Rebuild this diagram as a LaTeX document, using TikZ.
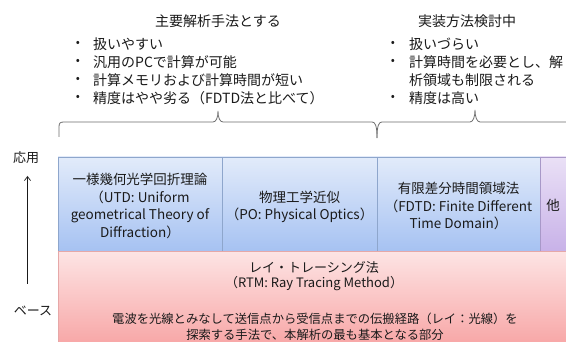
\documentclass[tikz,border=0pt]{standalone}
\usepackage{fontspec}
\setmainfont{Noto Sans CJK JP}
\usetikzlibrary{arrows.meta}
\definecolor{bluetop}{HTML}{E2EBFA}
\definecolor{bluebot}{HTML}{A6C2F2}
\definecolor{blueline}{HTML}{8EA6CC}
\definecolor{pinktop}{HTML}{FDE4E4}
\definecolor{pinkbot}{HTML}{F7A2A2}
\definecolor{pinkline}{HTML}{E6A8A8}
\definecolor{purptop}{HTML}{EAE0F6}
\definecolor{purpbot}{HTML}{C8B2E8}
\definecolor{purpline}{HTML}{A898C8}
\definecolor{txt}{HTML}{1A1A1A}
\definecolor{bracec}{HTML}{6E6E6E}
\tikzset{
  bluebox/.style={draw=blueline, line width=0.7pt, top color=bluetop, bottom color=bluebot, minimum height=94pt, inner sep=0pt},
  purpbox/.style={draw=purpline, line width=0.7pt, top color=purptop, bottom color=purpbot, minimum height=94pt, inner sep=0pt},
  pinkbox/.style={draw=pinkline, line width=0.7pt, top color=pinktop, bottom color=pinkbot, inner sep=0pt},
  boxtext/.style={text=txt, align=center, font=\fontsize{13.5}{17.5}\selectfont, inner sep=0pt},
  headtext/.style={text=txt, font=\fontsize{14}{17}\selectfont, inner sep=0pt},
  bul/.style={text=txt, font=\fontsize{12}{14}\selectfont, inner sep=0pt},
  itemtext/.style={text=txt, font=\fontsize{14}{18}\selectfont, anchor=west, inner sep=0pt},
  bracepath/.style={draw=bracec, line width=0.8pt},
}
\begin{document}
\begin{tikzpicture}[x=1pt,y=-1pt]
\clip (0,0) rectangle (566,342);
\fill[white] (0,0) rectangle (566,342);

% headings
\node[headtext] (h1) at (218,21) {主要解析手法とする};
\node[headtext] (h2) at (467,21) {実装方法検討中};

% left bullet list
\node[bul] (b1) at (78,44) {•};
\node[itemtext] (t1) at (93,44) {扱いやすい};
\node[bul] (b2) at (78,62) {•};
\node[itemtext] (t2) at (93,62) {汎用のPCで計算が可能};
\node[bul] (b3) at (78,80) {•};
\node[itemtext] (t3) at (93,80) {計算メモリおよび計算時間が短い};
\node[bul] (b4) at (78,98) {•};
\node[itemtext] (t4) at (93,98) {精度はやや劣る（FDTD法と比べて）};

% right bullet list
\node[bul] (c1) at (393,44) {•};
\node[itemtext] (u1) at (409,44) {扱いづらい};
\node[bul] (c2) at (393,62) {•};
\node[itemtext] (u2) at (409,62) {計算時間を必要とし、解};
\node[itemtext] (u3) at (409,80) {析領域も制限される};
\node[bul] (c4) at (393,98) {•};
\node[itemtext] (u4) at (409,98) {精度は高い};

% braces
\draw[bracepath] (59,137) -- (59,127) .. controls (59,123) and (60,122) .. (64,122)
  -- (213,122) .. controls (216,122) and (218,118) .. (218,111)
  .. controls (218,118) and (220,122) .. (223,122)
  -- (372,122) .. controls (375,122) and (377,125) .. (377,138);
\draw[bracepath] (377,138) .. controls (377,125) and (379,122) .. (382,122)
  -- (470,122) .. controls (473,122) and (475,117) .. (475,110)
  .. controls (475,117) and (477,122) .. (480,122) -- (570,122);

% top boxes
\node[bluebox, minimum width=164pt] (utd) at (140,204) {};
\node[bluebox, minimum width=155pt] (po) at (299.5,204) {};
\node[bluebox, minimum width=163pt] (fdtd) at (458.5,204) {};
\node[purpbox, minimum width=40pt] (other) at (560,204) {};

\node[boxtext] (utdt) at (140,206) {一様幾何光学回折理論\\（UTD: Uniform\\geometrical Theory of\\Diffraction）};
\node[boxtext] (pot) at (299.5,207) {物理工学近似\\（PO: Physical Optics）};
\node[boxtext] (fdtdt) at (458.5,206) {有限差分時間領域法\\（FDTD: Finite Different\\Time Domain）};
\node[boxtext] (othert) at (553,205) {他};

% base box
\node[pinkbox, minimum width=530pt, minimum height=100pt, anchor=north west] (rtm) at (58,251) {};
\node[text=txt, align=center, font=\fontsize{13}{15.5}\selectfont, inner sep=0pt] (rtmt) at (314,276) {レイ・トレーシング法\\（RTM: Ray Tracing Method）};
\node[text=txt, align=center, font=\fontsize{12.3}{16}\selectfont, inner sep=0pt] (rtmd) at (315,326.5) {電波を光線とみなして送信点から受信点までの伝搬経路（レイ：光線）を\\探索する手法で、本解析の最も基本となる部分};

% axis labels and arrow
\node[headtext, font=\fontsize{13}{15}\selectfont] (app) at (26,158) {応用};
\node[headtext, font=\fontsize{13}{15}\selectfont] (base) at (33,311) {ベース};
\coordinate (arrlow) at (27.5,284);
\coordinate (arrhigh) at (27.5,176);
\draw[draw=txt, line width=0.7pt, -{Straight Barb[length=4pt,width=6pt]}] (arrlow) -- (arrhigh);
\end{tikzpicture}
\end{document}
